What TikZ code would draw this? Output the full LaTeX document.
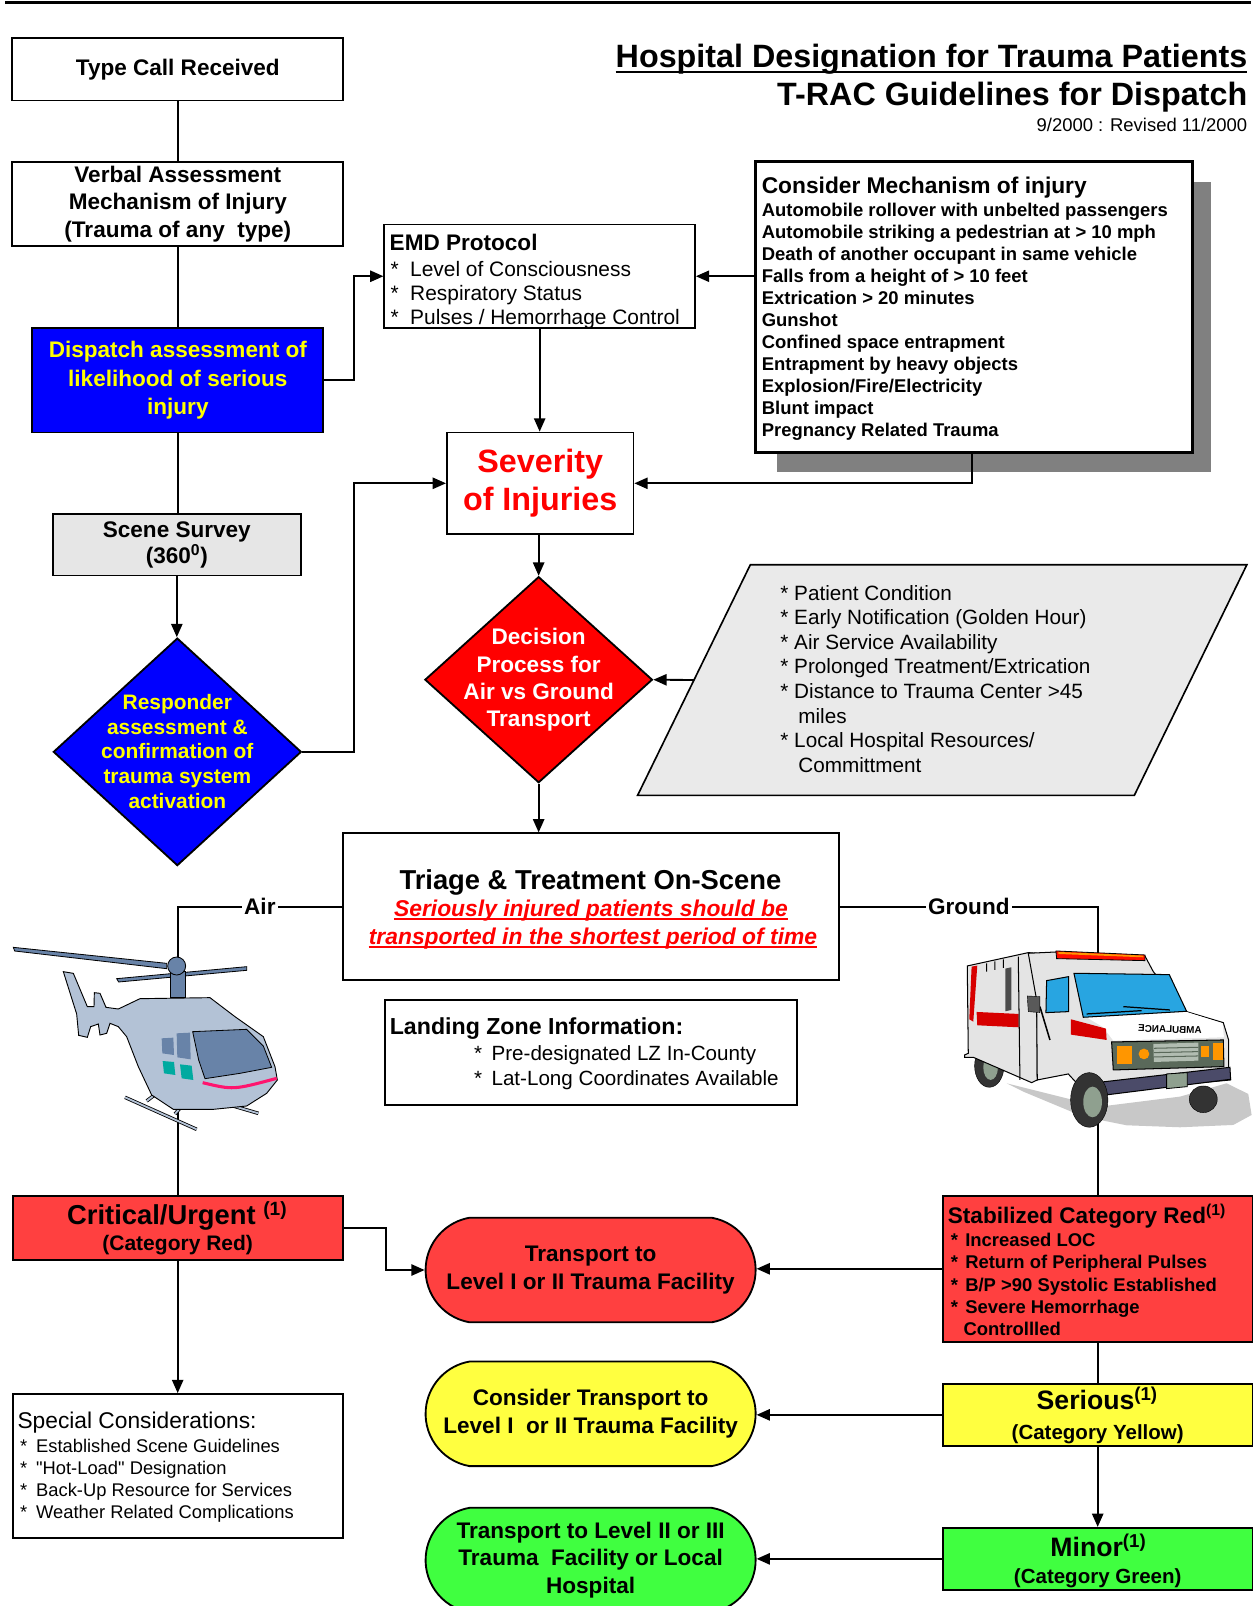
\documentclass[tikz,border=0pt]{standalone}
\usepackage{fontspec}
\setmainfont{Liberation Sans}
\usepackage{graphicx}
\usetikzlibrary{arrows.meta,shapes.geometric,shapes.misc}
\newcommand\FS[2]{\fontsize{#1}{#2}\selectfont}
\definecolor{dblue}{RGB}{0,0,255}
\definecolor{ytext}{RGB}{255,255,0}
\definecolor{rfill}{RGB}{255,64,64}
\definecolor{yfill}{RGB}{255,255,64}
\definecolor{gfill}{RGB}{64,255,64}
\definecolor{sgray}{RGB}{230,230,230}
\definecolor{pgray}{RGB}{234,234,234}
\definecolor{shadowgray}{RGB}{128,128,128}
\definecolor{pured}{RGB}{255,0,0}
\definecolor{hbody}{RGB}{179,194,214}
\definecolor{hdark}{RGB}{104,131,168}
\definecolor{hteal}{RGB}{0,170,160}
\definecolor{hpink}{RGB}{255,20,110}
\definecolor{ared}{RGB}{215,0,0}
\definecolor{ablue}{RGB}{40,165,225}
\definecolor{abody}{RGB}{228,228,228}
\definecolor{agray}{RGB}{90,105,90}
\definecolor{agreen}{RGB}{143,160,143}
\definecolor{abump}{RGB}{75,75,105}
\definecolor{ashadow}{RGB}{200,200,200}
\definecolor{aorange}{RGB}{255,150,0}
\begin{document}
\begin{tikzpicture}[x=1pt,y=-1pt,
  box/.style={draw, line width=1.8pt, inner sep=0pt},
  arr/.style={line width=1.8pt, -{Triangle[length=13pt,width=11pt]}},
  ln/.style={line width=1.8pt},
  txt/.style={inner sep=0pt, anchor=base west},
  ctxt/.style={inner sep=0pt, align=center},
  term/.style={draw, line width=1.8pt, rounded rectangle, rounded rectangle arc length=160,
    minimum width=322pt, minimum height=102pt, align=center, inner sep=0pt,
    font=\FS{22}{27}\bfseries},
  lbl/.style={fill=white, inner sep=2pt, font=\FS{22}{27}\bfseries}]
\useasboundingbox (0,0) rectangle (1225.4,1566.8);

% top rule
\draw[line width=2.8pt] (5,2.8) -- (1220,2.8);

% title
\node[txt, anchor=base east, font=\FS{31.5}{37}\bfseries] (title1) at (1217,66.2) {Hospital Designation for Trauma Patients};
\draw[line width=2.6pt] ([yshift=-4pt]title1.base west) -- ([yshift=-4pt]title1.base east);
\node[txt, anchor=base east, font=\FS{31.5}{37}\bfseries] (title2) at (1217,103.2) {T-RAC Guidelines for Dispatch};
\node[txt, anchor=base east, font=\FS{18}{22}] (date) at (1217,128.5) {9/2000 : Revised 11/2000};

% left column
\node[box, minimum width=323pt, minimum height=61pt, font=\FS{22}{27}\bfseries] (call) at (173.5,67.5) {Type Call Received};
\node[box, minimum width=323pt, minimum height=82pt, align=center, font=\FS{22}{27}\bfseries] (verbal) at (173.5,199) {Verbal Assessment\\Mechanism of Injury\\(Trauma of any\ \ type)};
\node[box, fill=dblue, text=ytext, minimum width=284pt, minimum height=102pt, align=center, font=\FS{22}{27.5}\bfseries] (blue) at (173.5,371) {Dispatch assessment of\\likelihood of serious\\injury};
\node[box, fill=sgray, minimum width=242pt, minimum height=60pt, align=center, font=\FS{22}{25}\bfseries] (scene) at (172.5,531.5) {Scene Survey\\(360\textsuperscript{0})};
\node[box, diamond, fill=dblue, minimum width=242pt, minimum height=222pt] (resp) at (173,733.5) {};
\node[ctxt, text=ytext, font=\FS{20.4}{24.2}\bfseries] (resptxt) at (173,733) {Responder\\assessment \&\\confirmation of\\trauma system\\activation};

% EMD protocol
\node[box, minimum width=303pt, minimum height=101pt] (emd) at (526.5,269.5) {};
\node[txt, font=\FS{22}{27}\bfseries] (emdtitle) at (380,244.7) {EMD Protocol};
\foreach \t [count=\i] in {Level of Consciousness, Respiratory Status, Pulses / Hemorrhage Control}
  \node[txt, font=\FS{20.4}{24}] (emd\i) at (381,{270+23.4*(\i-1)}) {\makebox[19pt][l]{*}\t};

% consider mechanism
\fill[shadowgray] (757.7,177.2) rectangle (1181.2,460.2);
\node[draw, line width=3.4pt, fill=white, minimum width=426pt, minimum height=284pt, inner sep=0pt] (cons) at (950.3,299.6) {};
\node[txt, font=\FS{22.2}{27}\bfseries] (constitle) at (743,188.5) {Consider Mechanism of injury};
\foreach \t [count=\i] in {Automobile rollover with unbelted passengers, Automobile striking a pedestrian at > 10 mph, Death of another occupant in same vehicle, Falls from a height of > 10 feet, Extrication > 20 minutes, Gunshot, Confined space entrapment, Entrapment by heavy objects, Explosion/Fire/Electricity, Blunt impact, Pregnancy Related Trauma}
  \node[txt, font=\FS{18}{21}\bfseries] (cons\i) at (743,{211.4+21.46*(\i-1)}) {\t};

% severity
\node[box, minimum width=182pt, minimum height=99pt, align=center, text=pured, font=\FS{31.5}{37}\bfseries] (sev) at (527,471.5) {Severity\\of Injuries};

% decision
\node[box, diamond, fill=pured, minimum width=222pt, minimum height=201pt] (dec) at (525.5,663.1) {};
\node[ctxt, text=white, font=\FS{22}{26.7}\bfseries] (dectxt) at (525.5,663.4) {Decision\\Process for\\Air vs Ground\\Transport};

% parallelogram
\filldraw[fill=pgray, line width=1.6pt] (732,551) -- (1216.4,551) -- (1106.6,776) -- (622,776) -- cycle;
\coordinate (parL) at (677.3,663.4);
\foreach \t [count=\i] in {* Patient Condition, * Early Notification (Golden Hour), * Air Service Availability, * Prolonged Treatment/Extrication, * Distance to Trauma Center >45, \hspace*{17.5pt}miles, * Local Hospital Resources/, \hspace*{17.5pt}Committment}
  \node[txt, font=\FS{20.2}{24}] (par\i) at (761.2,{585.5+24*(\i-1)}) {\t};

% triage
\node[box, minimum width=484pt, minimum height=143pt] (triage) at (576.6,884.5) {};
\node[txt, anchor=base, font=\FS{26.7}{32}\bfseries] (triagetitle) at (576,867.5) {Triage \& Treatment On-Scene};
\node[txt, anchor=base, text=pured, font=\FS{22.3}{27}\bfseries\itshape] (triage1) at (576.5,894.2) {Seriously injured patients should be};
\node[txt, anchor=base, text=pured, font=\FS{22.3}{27}\bfseries\itshape] (triage2) at (578.5,921.8) {transported in the shortest period of time};
\draw[pured, line width=2pt] ([yshift=-2.5pt]triage1.base west) -- ([yshift=-2.5pt]triage1.base east);
\draw[pured, line width=2pt] ([yshift=-2.5pt]triage2.base west) -- ([yshift=-2.5pt]triage2.base east);

% landing zone
\node[box, minimum width=402pt, minimum height=102.4pt] (land) at (576.4,1026.8) {};
\node[txt, font=\FS{22.6}{27}\bfseries] (landtitle) at (380.1,1009.7) {Landing Zone Information:};
\foreach \t [count=\i] in {Pre-designated LZ In-County, Lat-Long Coordinates Available}
  \node[txt, font=\FS{20.1}{24}] (land\i) at (462.4,{1034.8+23.8*(\i-1)}) {\makebox[17pt][l]{*}\t};

% critical
\node[box, fill=rfill, minimum width=322pt, minimum height=63pt] (crit) at (173.35,1197.9) {};
\node[txt, anchor=base, font=\FS{26.7}{32}\bfseries] (crit1) at (172.9,1195) {Critical/Urgent \textsuperscript{(1)}};
\node[txt, anchor=base, font=\FS{20.5}{25}\bfseries] (crit2) at (173.35,1220.4) {(Category Red)};

% special
\node[box, minimum width=322pt, minimum height=140.8pt] (spec) at (173.35,1430.4) {};
\node[txt, font=\FS{22.2}{27}] (spectitle) at (16.9,1393.4) {Special Considerations:};
\foreach \t [count=\i] in {Established Scene Guidelines, \textquotedbl Hot-Load\textquotedbl{} Designation, Back-Up Resource for Services, Weather Related Complications}
  \node[txt, font=\FS{17.9}{21}] (spec\i) at (19.5,{1416.9+21.5*(\i-1)}) {\makebox[15.6pt][l]{*}\t};

% terminators
\node[term, fill=rfill] (redT) at (576.2,1239) {Transport to\\Level I or II Trauma Facility};
\node[term, fill=yfill] (yelT) at (576.2,1379.3) {Consider Transport to\\Level I\ \ or II Trauma Facility};
\node[term, fill=gfill] (grnT) at (576.2,1522) {Transport to Level II or III\\Trauma\ \ Facility or Local\\Hospital};

% stabilized
\node[box, fill=rfill, minimum width=302pt, minimum height=142.5pt] (stab) at (1070.9,1237.8) {};
\node[txt, font=\FS{22}{27}\bfseries] (stabtitle) at (924.6,1193.4) {Stabilized Category Red\textsuperscript{(1)}};
\foreach \t [count=\i] in {Increased LOC, Return of Peripheral Pulses, B/P >90 Systolic Established, Severe Hemorrhage}
  \node[txt, font=\FS{18}{21}\bfseries] (stab\i) at (927.5,{1216.3+21.7*(\i-1)}) {\makebox[14pt][l]{*}\t};
\node[txt, font=\FS{18}{21}\bfseries] (stab5) at (939.8,1303.1) {Controllled};

% serious / minor
\node[box, fill=yfill, minimum width=302pt, minimum height=60.5pt] (ser) at (1070.9,1380.3) {};
\node[txt, anchor=base, font=\FS{26}{31}\bfseries] (ser1) at (1070.4,1375.3) {Serious\textsuperscript{(1)}};
\node[txt, anchor=base, font=\FS{20}{24}\bfseries] (ser2) at (1070.9,1404) {(Category Yellow)};
\node[box, fill=gfill, minimum width=302pt, minimum height=60.5pt] (minr) at (1070.9,1520.8) {};
\node[txt, anchor=base, font=\FS{26}{31}\bfseries] (minr1) at (1071.5,1518.4) {Minor\textsuperscript{(1)}};
\node[txt, anchor=base, font=\FS{20}{24}\bfseries] (minr2) at (1070.9,1544.4) {(Category Green)};

% connectors
\draw[ln] (call.south) -- (call.south |- verbal.north);
\draw[ln] (verbal.south) -- (verbal.south |- blue.north);
\draw[ln] (blue.south) -- (blue.south |- scene.north);
\draw[arr] (scene.south) -- (scene.south |- resp.north);
\draw[arr] (blue.east) -- ++(28.8,0) |- (emd.west);
\draw[arr] (emd.east -| cons.west) -- (emd.east);
\draw[arr] (emd.south) -- (emd.south |- sev.north);
\draw[arr] ([xshift=-2pt]cons.south) |- (sev.east);
\draw[arr] (resp.east) -- ++(50.5,0) |- (sev.west);
\draw[arr] (dec.north |- sev.south) -- (dec.north);
\draw[arr] (parL) -- (dec.east);
\draw[arr] (dec.south) -- (dec.south |- triage.north);
\draw[ln] (triage.west) -| node[lbl, pos=0.25] (air) {Air} (crit.north);
\draw[ln] (triage.east) -| node[lbl, pos=0.25] (ground) {Ground} (stab.north);
\draw[arr] (crit.east) -- ++(41.3,0) |- (redT.west);
\draw[arr] (stab.west) -- (stab.west -| redT.east);
\draw[arr] (crit.south) -- (crit.south |- spec.north);
\draw[ln] (stab.south) -- (stab.south |- ser.north);
\draw[arr] (ser.west) -- (ser.west -| yelT.east);
\draw[arr] (ser.south) -- (ser.south |- minr.north);
\draw[arr] (minr.west) -- (minr.west -| grnT.east);

% helicopter clip art
\begin{scope}[shift={(0,839)}, scale=0.3252]
  \filldraw[fill=hdark, draw=black, line width=0.8pt] (40,262) -- (500,310) -- (500,326) -- (44,273) -- cycle;
  \filldraw[fill=hdark, draw=black, line width=0.8pt] (350,356) -- (740,320) -- (740,331) -- (356,366) -- cycle;
  \filldraw[fill=hdark, draw=black, line width=0.8pt] (512,335) rectangle (556,412);
  \filldraw[fill=hdark, draw=black, line width=0.8pt] (530,318) circle [radius=27];
  \draw[black, line width=3.4pt] (375,712) -- (590,808) (440,723) -- (470,700) (525,762) -- (548,735) (700,738) -- (775,760);
  \draw[hbody, line width=1.8pt] (375,712) -- (590,808) (440,723) -- (470,700) (525,762) -- (548,735) (700,738) -- (775,760);
  \filldraw[fill=hbody, draw=black, line width=0.9pt] (190,335) -- (220,340) -- (262,440) -- (282,440) -- (283,398) -- (300,400) -- (318,442) -- (355,447) -- (420,416) -- (630,413) -- (705,470) -- (790,530) -- (825,620) -- (832,660) -- (800,700) -- (740,738) -- (640,748) -- (520,748) -- (455,705) -- (415,620) -- (380,530) -- (355,500) -- (330,490) -- (320,520) -- (300,525) -- (295,492) -- (272,500) -- (262,532) -- (236,526) -- (230,462) -- cycle;
  \filldraw[fill=hdark, draw=black, line width=0.8pt] (578,515) -- (740,508) -- (790,558) -- (815,622) -- (720,640) -- (615,656) -- (596,600) -- cycle;
  \fill[hdark] (485,535) -- (520,533) -- (522,585) -- (487,580) -- cycle;
  \fill[hdark] (530,520) -- (570,518) -- (572,598) -- (532,592) -- cycle;
  \fill[hteal] (488,603) -- (522,606) -- (526,645) -- (492,640) -- cycle;
  \fill[hteal] (540,613) -- (575,617) -- (580,660) -- (545,655) -- cycle;
  \draw[hpink, line width=3pt] (608,668) .. controls (700,690) .. (830,655);
\end{scope}

% ambulance clip art
\begin{scope}[shift={(917,917)}, scale=0.3252]
  \fill[ashadow] (200,430) -- (480,500) -- (720,470) -- (860,430) -- (925,462) -- (935,525) -- (880,555) -- (720,562) -- (560,556) -- (430,530) -- (250,455) -- cycle;
  \filldraw[fill=black!80, draw=black] (790,478) ellipse [x radius=42, y radius=40];
  \filldraw[fill=black!80, draw=black] (148,378) ellipse [x radius=44, y radius=64];
  \fill[agreen] (152,382) ellipse [x radius=22, y radius=38];
  \filldraw[fill=abody, draw=black, line width=1pt] (82,78) -- (265,38) -- (290,40) -- (292,420) -- (275,428) -- (100,352) -- (74,352) -- (74,345) -- (85,340) -- cycle;
  \fill[ared] (95,80) -- (112,77) -- (100,245) -- (88,238) -- cycle;
  \fill[ared] (110,216) -- (236,222) -- (236,262) -- (112,256) -- cycle;
  \fill[black!70] (196,86) -- (214,82) -- (214,210) -- (196,214) -- cycle;
  \draw[line width=1pt] (140,70) -- (140,95) (165,64) -- (165,90) (190,58) -- (190,84) (235,50) -- (240,420);
  \filldraw[fill=abody, draw=black, line width=1pt] (265,40) -- (350,36) -- (615,48) -- (640,95) -- (740,215) -- (850,248) -- (866,300) -- (866,388) -- (872,420) -- (500,455) -- (420,440) -- (385,402) -- (292,420) -- (290,180) -- cycle;
  \fill[white] (440,232) -- (740,216) -- (848,250) -- (852,292) -- (520,302) -- (490,262) -- cycle;
  \filldraw[fill=ablue, draw=black, line width=1pt] (402,100) -- (688,104) -- (740,214) -- (430,232) -- cycle;
  \filldraw[fill=ablue, draw=black, line width=1pt] (320,122) -- (386,110) -- (386,215) -- (318,218) -- cycle;
  \draw[line width=1.2pt] (440,222) -- (605,212) (550,200) -- (690,210);
  \filldraw[fill=red!90!orange, draw=black, line width=0.8pt] (348,33) -- (615,45) -- (615,62) -- (350,56) -- cycle;
  \fill[aorange] (355,36) -- (610,47) -- (610,52) -- (355,42) -- cycle;
  \fill[ared] (393,238) -- (498,266) -- (500,300) -- (393,284) -- cycle;
  \filldraw[fill=agray, draw=black, line width=1pt] (515,306) -- (850,300) -- (852,380) -- (520,390) -- cycle;
  \fill[agreen!70!white] (640,312) -- (775,308) -- (775,362) -- (642,366) -- cycle;
  \draw[agray, line width=1pt] (642,325) -- (775,322) (642,338) -- (775,335) (642,351) -- (775,348);
  \fill[aorange] (530,318) rectangle (575,372);
  \fill[aorange] (612,342) circle [radius=16];
  \fill[aorange] (783,318) rectangle (808,350);
  \fill[aorange] (818,308) rectangle (848,360);
  \filldraw[fill=abump, draw=black, line width=1pt] (470,428) -- (870,382) -- (872,418) -- (490,466) -- cycle;
  \filldraw[fill=agreen, draw=black, line width=0.8pt] (680,402) -- (742,398) -- (742,440) -- (680,446) -- cycle;
  \filldraw[fill=black!80, draw=black] (448,480) ellipse [x radius=56, y radius=82];
  \fill[agreen] (458,486) ellipse [x radius=28, y radius=46];
  \draw[line width=1.5pt] (300,200) -- (330,300);
  \filldraw[fill=black!65, draw=black] (262,168) -- (300,170) -- (300,218) -- (265,215) -- cycle;
  \node[inner sep=0pt, rotate=-2, font=\FS{9.6}{11}\bfseries] (ambtxt) at (690,268) {\reflectbox{AMBULANCE}};
\end{scope}
\end{tikzpicture}
\end{document}
